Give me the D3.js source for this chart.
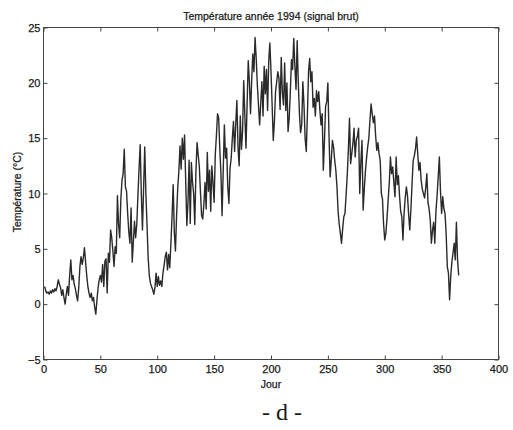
<!DOCTYPE html>
<html>
<head>
<meta charset="utf-8">
<script src="https://cdn.jsdelivr.net/npm/d3@7"></script>
<style>
  body { margin: 0; background: #fff; }
  text { font-family: "Liberation Sans", Arial, sans-serif; fill: #1a1a1a; stroke: #1a1a1a; stroke-width: 0.25px; }
</style>
</head>
<body>
<svg id="chart" width="513" height="430"></svg>
<script>
// daily temperature, 1994 (raw signal), days 1..365
var temp = [
  1.6, 1.2, 1.0, 1.1, 0.9, 1.2, 1.0, 1.3, 1.1, 1.4,
  1.2, 1.6, 2.2, 1.8, 1.5, 0.8, 1.3, 0.6, 0.0, 0.9,
  1.6, 0.8, 2.6, 4.0, 2.2, 2.6, 1.8, 1.4, 0.8, 0.3,
  1.5, 3.4, 4.3, 3.6, 4.2, 5.1, 3.8, 2.6, 1.6, 1.0,
  0.6, 1.0, 0.3, 0.6, -0.3, -0.9, 0.4, 1.5, 2.2, 2.6,
  2.0, 3.6, 1.6, 3.9, 4.1, 1.0, 4.6, 3.8, 6.7, 6.0,
  4.8, 3.4, 5.2, 4.6, 9.8, 7.2, 6.0, 9.5, 11.2, 11.8,
  14.0, 10.6, 10.2, 8.2, 6.5, 5.5, 8.7, 3.8, 5.6, 7.5,
  6.0, 7.2, 9.8, 12.2, 14.4, 10.0, 6.7, 10.5, 14.2, 10.0,
  7.2, 4.2, 2.6, 1.9, 1.6, 1.3, 0.9, 1.5, 2.8, 1.6,
  2.5, 1.7, 2.1, 1.6, 2.8, 3.5, 4.3, 4.7, 3.1, 4.5,
  3.3, 5.5, 7.9, 10.8, 6.5, 4.8, 8.0, 10.5, 12.0, 14.3,
  12.2, 15.0, 13.1, 15.3, 11.2, 7.1, 9.2, 13.0, 7.3, 12.8,
  11.0, 10.0, 7.2, 12.0, 14.6, 13.5, 12.4, 10.1, 8.0, 7.7,
  9.1, 11.0, 8.6, 13.7, 10.2, 12.1, 8.4, 12.5, 11.0, 9.2,
  13.5, 15.2, 17.2, 16.8, 14.0, 11.8, 8.0, 12.1, 16.2, 13.2,
  14.1, 10.6, 9.1, 12.3, 13.2, 15.0, 16.5, 13.8, 16.3, 18.4,
  14.2, 12.5, 17.0, 14.0, 15.6, 20.2, 17.1, 14.1, 18.1, 22.0,
  20.1, 17.2, 20.2, 22.6, 21.0, 24.1, 22.2, 19.8, 18.0, 16.2,
  18.2, 20.1, 17.0, 21.5, 19.0, 21.2, 17.5, 22.0, 23.6, 21.0,
  18.0, 14.8, 16.5, 19.2, 20.1, 21.0, 20.4, 17.6, 22.3, 19.1,
  18.0, 21.8, 17.5, 20.0, 15.6, 16.8, 19.2, 22.1, 21.2, 24.0,
  21.5, 19.4, 23.8, 20.0, 17.2, 15.5, 16.2, 20.1, 18.0, 15.0,
  13.8, 17.1, 21.0, 22.2, 20.1, 21.0, 17.8, 18.6, 17.0, 19.3,
  18.3, 19.2, 17.5, 16.2, 17.2, 12.1, 14.8, 17.9, 18.3, 20.0,
  15.2, 11.5, 13.0, 14.8, 14.2, 13.0, 12.1, 10.6, 8.4, 7.2,
  6.4, 5.5, 6.8, 7.9, 8.2, 9.8, 11.6, 13.9, 16.8, 12.7,
  13.6, 14.5, 15.9, 13.3, 14.8, 15.2, 15.9, 10.0, 12.8, 14.8,
  8.5, 10.4, 12.0, 13.2, 14.2, 15.0, 16.6, 18.1, 17.2, 16.4,
  17.0, 15.2, 13.9, 14.6, 13.6, 13.0, 10.0, 9.5, 7.2, 5.8,
  6.4, 7.8, 9.4, 11.0, 13.3, 11.8, 12.4, 11.0, 9.7, 13.3,
  10.8, 11.6, 9.8, 8.4, 7.9, 5.8, 8.2, 9.6, 10.6, 9.8,
  8.1, 6.7, 8.6, 10.9, 13.0, 13.4, 14.0, 15.1, 13.6, 12.1,
  12.8, 11.2, 10.4, 10.0, 9.6, 10.5, 11.8, 9.2, 8.6, 7.6,
  5.5, 6.7, 7.4, 5.5, 8.4, 9.8, 11.5, 13.3, 10.2, 8.2,
  9.7, 8.6, 8.2, 6.3, 3.4, 2.8, 0.4, 2.5, 3.8, 4.6,
  5.5, 4.0, 7.4, 4.0, 2.6
];
var xTicks = [0, 50, 100, 150, 200, 250, 300, 350, 400];
var yTicks = [-5, 0, 5, 10, 15, 20, 25];

var svg = d3.select("#chart");
var mLeft = 43.5, mRight = 498.5, mTop = 27.5, mBottom = 359.5;

var x = d3.scaleLinear().domain([0, 400]).range([mLeft, mRight]);
var y = d3.scaleLinear().domain([-5, 25]).range([mBottom, mTop]);

// matlab style: box with ticks pointing inward on every side
svg.append("rect")
  .attr("x", mLeft).attr("y", mTop)
  .attr("width", mRight - mLeft).attr("height", mBottom - mTop)
  .attr("fill", "none").attr("stroke", "#444").attr("stroke-width", 1);

var axB = svg.append("g").attr("transform", "translate(0," + mBottom + ")")
  .call(d3.axisBottom(x).tickValues(xTicks).tickSize(-4).tickPadding(6));
var axT = svg.append("g").attr("transform", "translate(0," + mTop + ")")
  .call(d3.axisTop(x).tickValues(xTicks).tickSize(-4).tickFormat(""));
var axL = svg.append("g").attr("transform", "translate(" + mLeft + ",0)")
  .call(d3.axisLeft(y).tickValues(yTicks).tickSize(-4).tickPadding(3));
var axR = svg.append("g").attr("transform", "translate(" + mRight + ",0)")
  .call(d3.axisRight(y).tickValues(yTicks).tickSize(-4).tickFormat(""));

[axB, axT, axL, axR].forEach(function(g) {
  g.select(".domain").remove();
  g.selectAll(".tick line").attr("stroke", "#444");
  g.selectAll(".tick text")
    .style("font-family", "'Liberation Sans', Arial, sans-serif")
    .style("font-size", "11px")
    .attr("fill", "#1a1a1a");
});

var line = d3.line()
  .x(function(d, i) { return x(i + 1); })
  .y(function(d) { return y(d); });

svg.append("path")
  .datum(temp)
  .attr("d", line)
  .attr("fill", "none")
  .attr("stroke", "#2a2a2a")
  .attr("stroke-width", 1.4)
  .attr("stroke-linejoin", "round");

svg.append("text")
  .attr("x", 271).attr("y", 20)
  .attr("text-anchor", "middle")
  .style("font-size", "10.5px")
  .text("Température année 1994 (signal brut)");

svg.append("text")
  .attr("x", 271).attr("y", 388)
  .attr("text-anchor", "middle")
  .style("font-size", "10.5px")
  .text("Jour");

svg.append("text")
  .attr("transform", "translate(21,192) rotate(-90)")
  .attr("text-anchor", "middle")
  .style("font-size", "10.5px")
  .text("Température (°C)");

svg.append("text")
  .attr("x", 282).attr("y", 420)
  .attr("text-anchor", "middle")
  .style("font-family", "'Liberation Serif', 'Times New Roman', serif")
  .style("font-size", "24px")
  .style("stroke-width", "0")
  .attr("fill", "#333")
  .text("- d -");
</script>
</body>
</html>
